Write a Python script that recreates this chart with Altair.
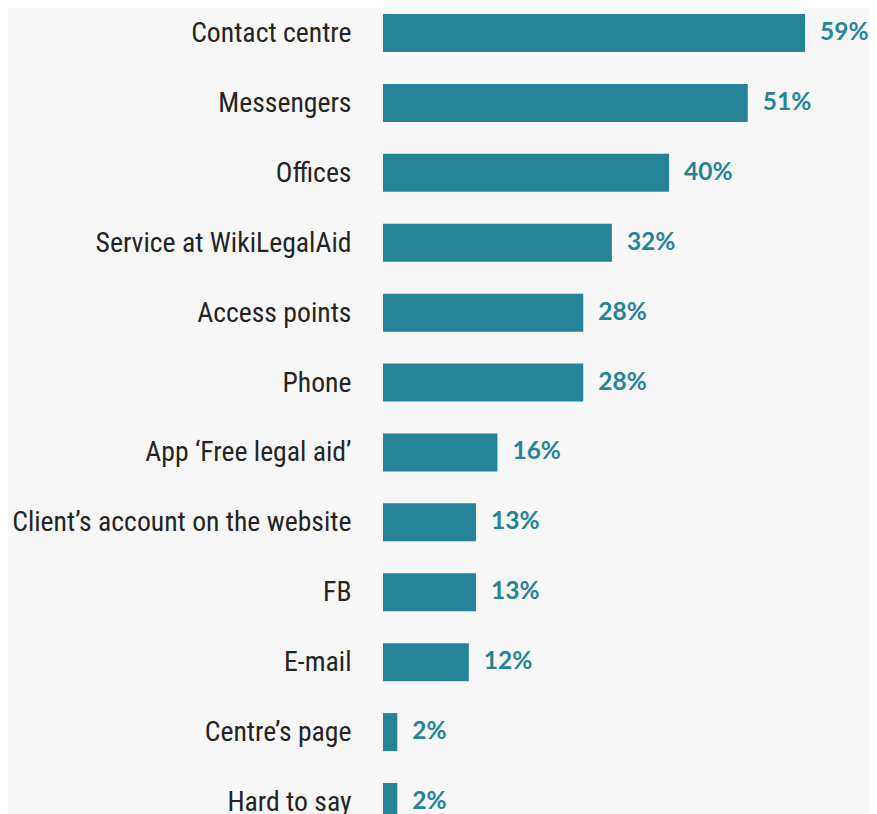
import altair as alt
import pandas as pd

categories = [
    "Contact centre",
    "Messengers",
    "Offices",
    "Service at WikiLegalAid",
    "Access points",
    "Phone",
    "App \u2018Free legal aid\u2019",
    "Client\u2019s account on the website",
    "FB",
    "E-mail",
    "Centre\u2019s page",
    "Hard to say",
]
values = [59, 51, 40, 32, 28, 28, 16, 13, 13, 12, 2, 2]
labels = [f"{v}%" for v in values]

df = pd.DataFrame({"category": categories, "value": values, "label": labels})

TEAL = "#258497"
W = 486
PX_PER_PCT = 7.1525

y_enc = alt.Y(
    "category:N",
    sort=categories,
    title=None,
    scale=alt.Scale(paddingInner=0.4564, paddingOuter=0.0858),
    axis=alt.Axis(
        domain=False,
        ticks=False,
        tickSize=0,
        grid=False,
        labelPadding=32,
        labelFont="Roboto Condensed, DejaVu Sans Condensed, sans-serif",
        labelFontSize=27.7,
        labelColor="#242424",
        labelLimit=400,
        labelOffset=1,
    ),
)
x_enc = alt.X(
    "value:Q",
    axis=None,
    scale=alt.Scale(domain=[0, W / PX_PER_PCT], nice=False, zero=True),
)

bars = alt.Chart(df).mark_bar(color=TEAL).encode(y=y_enc, x=x_enc)
text = alt.Chart(df).mark_text(
    align="left",
    baseline="middle",
    dx=15,
    font="Lato",
    fontWeight="bold",
    fontSize=24.5,
    color=TEAL,
).encode(y=y_enc, x=x_enc, text="label:N")

chart = (
    alt.layer(bars, text)
    .properties(
        width=W,
        height=819,
        autosize=alt.AutoSizeParams(type="none"),
        padding={"left": 375, "top": 0, "right": 0, "bottom": 0},
        background="#f7f7f7",
    )
    .configure_view(stroke=None)
)

chart.save("out.html", embed_options={"renderer": "svg", "actions": False})
